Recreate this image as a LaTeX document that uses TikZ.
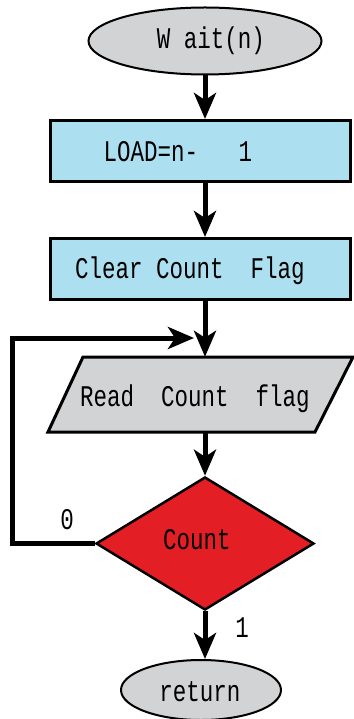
\documentclass[tikz,border=0pt]{standalone}
\usepackage{fontspec}
\setmainfont[FakeStretch=0.75]{Liberation Mono}
\usetikzlibrary{arrows.meta,shapes.geometric}

\definecolor{termgray}{HTML}{D1D3D4}
\definecolor{procblue}{HTML}{ACDFEF}
\definecolor{decred}{HTML}{E31E25}

\tikzset{
  txt/.style={font=\fontsize{30}{32}\selectfont, inner sep=0pt, text=black},
  term/.style={ellipse, draw=black, line width=2pt, fill=termgray, inner sep=0pt},
  proc/.style={rectangle, draw=black, line width=3pt, fill=procblue, inner sep=0pt,
               minimum width=300pt, minimum height=61pt},
  decide/.style={diamond, draw=black, line width=2.5pt, fill=decred, inner sep=0pt,
                 minimum width=218pt, minimum height=133pt},
  flow/.style={line width=5pt, -{Stealth[length=26pt, width=22pt, inset=7pt]}},
}

\begin{document}
\begin{tikzpicture}[x=1pt,y=-1pt]
  \useasboundingbox (0,0) rectangle (353,719);

  % terminals and process boxes
  \node[term, minimum width=233pt, minimum height=67pt] (wait) at (205,41) {};
  \node[txt] (waittxt) at (211,41) {W ait(n)};

  \node[proc] (load) at (200,151) {};
  \node[txt] (loadtxt) at (178,152) {LOAD=n-\ \ \ 1};

  \node[proc] (clear) at (200,269) {};
  \node[txt] (cleartxt) at (190,271) {Clear Count\ \ Flag};

  % input parallelogram
  \filldraw[fill=termgray, draw=black, line width=3pt]
    (83,357) -- (353,357) -- (315,432) -- (48,432) -- cycle;
  \node[minimum width=230pt, minimum height=75pt, inner sep=0pt] (read) at (205,394.5) {};
  \node[txt] (readtxt) at (195,399) {Read\ \ Count\ \ flag};

  % decision
  \node[decide] (count) at (205,543.5) {};
  \node[txt] (counttxt) at (197,540) {Count};

  \node[term, minimum width=160pt, minimum height=60pt] (ret) at (201,690) {};
  \node[txt] (rettxt) at (200,692) {return};

  % branch labels
  \node[txt] (zero) at (67,520) {0};
  \node[txt] (one) at (242,628) {1};

  % connectors
  \coordinate (corner) at (12,338);
  \coordinate (merge) at (194,338);

  \draw[flow] (wait.south) -- (wait.south |- load.north);
  \draw[flow] (wait.south |- load.south) -- (wait.south |- clear.north);
  \draw[flow] (wait.south |- clear.south) -- (count.north |- read.north);
  \draw[flow] (count.north |- read.south) -- (count.north);
  \draw[flow] (count.west) -| (corner) -- (merge);
  \draw[flow] (count.south) -- (count.south |- ret.north);
\end{tikzpicture}
\end{document}
